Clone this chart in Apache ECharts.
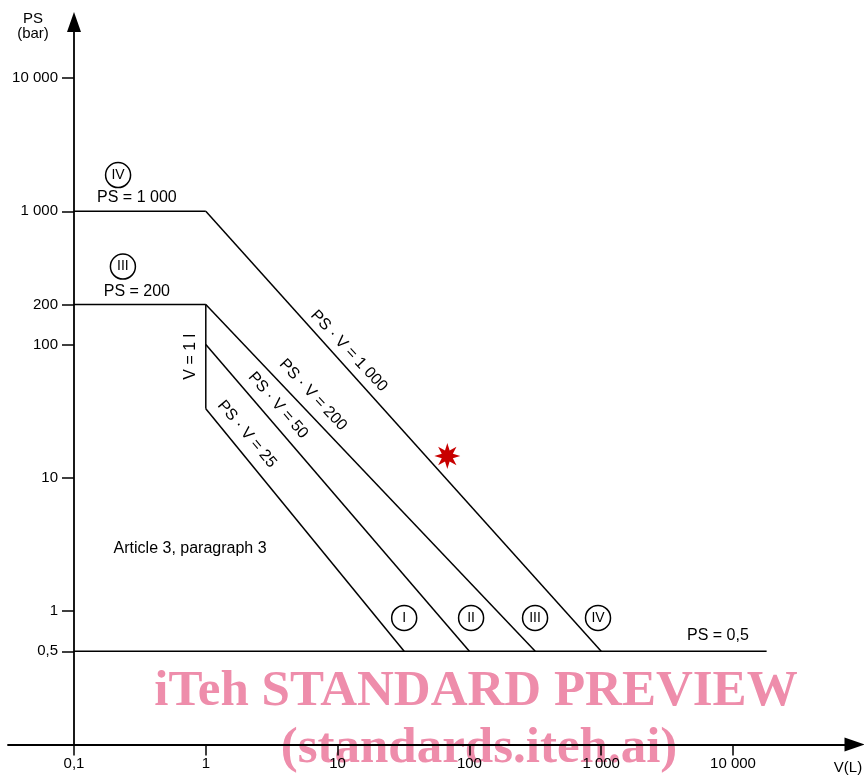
<!DOCTYPE html>
<html>
<head>
<meta charset="utf-8">
<script src="https://cdn.jsdelivr.net/npm/echarts@6/dist/echarts.min.js"></script>
<style>
  html, body { margin: 0; padding: 0; background: #fff; }
  #chart { width: 864px; height: 778px; }
</style>
</head>
<body>
<div id="chart"></div>
<script>
// ---- axis ticks ----
const xTicks = [0.1, 1, 10, 100, 1000, 10000];
const xTickLabels = ['0,1', '1', '10', '100', '1 000', '10 000'];
const yTicks = [0.5, 1, 10, 100, 200, 1000, 10000];
const yTickLabels = ['0,5', '1', '10', '100', '200', '1 000', '10 000'];

// ---- boundary lines, points as [V (L), PS (bar)] ----
const linePS1000 = [[0.1, 1000], [1, 1000]];
const linePS200 = [[0.1, 200], [1, 200]];
const lineV1 = [[1, 200], [1, 33]];
const linePSV1000 = [[1, 1000], [1000, 0.5]];
const linePSV200 = [[1, 200], [316, 0.5]];
const linePSV50 = [[1, 100], [100, 0.5]];
const linePSV25 = [[1, 33], [32, 0.5]];
const linePS05 = [[0.1, 0.5], [18000, 0.5]];

// ---- category markers (circled numerals) ----
const categoryNames = ['I', 'II', 'III', 'IV', 'IV', 'III'];
const categoryV = [32, 103, 315, 946, 0.216, 0.235];
const categoryPS = [0.89, 0.89, 0.89, 0.89, 1870, 385];

// ---- text annotations ----
const noteTexts = ['PS = 1 000', 'PS = 200', 'PS = 0,5', 'V = 1 l', 'PS · V = 1 000', 'PS · V = 200', 'PS · V = 50', 'PS · V = 25', 'Article 3, paragraph 3'];
const noteV = [0.30, 0.30, 7690, 0.77, 12.2, 6.5, 3.53, 2.05, 0.76];
const notePS = [1258, 250, 0.652, 81, 89.5, 41.9, 35.0, 21.3, 2.93];
const noteRotate = [0, 0, 0, 90, -47, -47, -49, -50, 0];

// ---- highlighted point (red star) ----
const starPoint = [[68, 14.6]];

function fmt(ticks, labels) {
  return function (v) {
    for (let i = 0; i < ticks.length; i++) {
      if (Math.abs(Math.log10(v) - Math.log10(ticks[i])) < 1e-6) return labels[i];
    }
    return '';
  };
}

function starPath(n, rOut, rIn) {
  let d = '';
  for (let i = 0; i < 2 * n; i++) {
    const r = i % 2 === 0 ? rOut : rIn;
    const a = Math.PI * i / n - Math.PI / 2;
    d += (i === 0 ? 'M' : 'L') + (r * Math.cos(a)).toFixed(2) + ' ' + (r * Math.sin(a)).toFixed(2) + ' ';
  }
  return 'path://' + d + 'Z';
}

const FONT = '"Liberation Sans", Arial, Helvetica, sans-serif';
const INK = '#000';

function lineSeries(name, data) {
  return {
    name: name, type: 'line', data: data, symbol: 'none', silent: true,
    lineStyle: { color: INK, width: 1.5 }, z: 3, animation: false
  };
}

const chart = echarts.init(document.getElementById('chart'), null, { renderer: 'canvas' });

const option = {
  backgroundColor: '#fff',
  animation: false,
  grid: { left: 8, right: 9.5, top: 22, bottom: 33.5, containLabel: false, outerBoundsMode: 'none' },
  xAxis: {
    type: 'log', logBase: 10,
    min: Math.pow(10, -1.5008), max: Math.pow(10, 4.922),
    axisLine: { show: true, symbol: ['none', 'triangle'], symbolSize: [14, 20], symbolOffset: [0, 0], lineStyle: { color: INK, width: 1.8 } },
    axisTick: { show: true, length: 11, customValues: xTicks, lineStyle: { color: INK, width: 1.5 } },
    axisLabel: { show: true, customValues: xTicks, formatter: fmt(xTicks, xTickLabels), margin: 12, fontSize: 15, color: INK, fontFamily: FONT },
    splitLine: { show: false }, minorTick: { show: false }, minorSplitLine: { show: false }
  },
  yAxis: {
    type: 'log', logBase: 10,
    min: 0.1, max: Math.pow(10, 4.42),
    offset: -66,
    axisLine: { show: true, symbol: ['none', 'triangle'], symbolSize: [14, 20], symbolOffset: [0, 0], lineStyle: { color: INK, width: 1.8 } },
    axisTick: { show: true, length: 12, customValues: yTicks, lineStyle: { color: INK, width: 1.5 } },
    axisLabel: { show: true, customValues: yTicks, formatter: fmt(yTicks, yTickLabels), margin: 16, fontSize: 15, color: INK, fontFamily: FONT },
    splitLine: { show: false }, minorTick: { show: false }, minorSplitLine: { show: false }
  },
  graphic: {
    elements: [
      { type: 'text', z: 10, silent: true, style: { x: 33, y: 19, text: 'PS', textAlign: 'center', textVerticalAlign: 'middle', fill: INK, font: '15px ' + FONT } },
      { type: 'text', z: 10, silent: true, style: { x: 33, y: 34, text: '(bar)', textAlign: 'center', textVerticalAlign: 'middle', fill: INK, font: '15px ' + FONT } },
      { type: 'text', z: 10, silent: true, style: { x: 848, y: 768, text: 'V(L)', textAlign: 'center', textVerticalAlign: 'middle', fill: INK, font: '15px ' + FONT } },
      { type: 'text', z: -10, silent: true, style: { x: 476, y: 717, text: 'iTeh STANDARD PREVIEW', textAlign: 'center', textVerticalAlign: 'bottom', fill: '#ee8dab', font: 'bold 51px "Liberation Serif", "Times New Roman", serif' } },
      { type: 'text', z: -10, silent: true, style: { x: 479, y: 774, text: '(standards.iteh.ai)', textAlign: 'center', textVerticalAlign: 'bottom', fill: '#ee8dab', font: 'bold 51px "Liberation Serif", "Times New Roman", serif' } }
    ]
  },
  series: [
    lineSeries('PS = 1 000', linePS1000),
    lineSeries('PS = 200', linePS200),
    lineSeries('V = 1 l', lineV1),
    lineSeries('PS·V = 1 000', linePSV1000),
    lineSeries('PS·V = 200', linePSV200),
    lineSeries('PS·V = 50', linePSV50),
    lineSeries('PS·V = 25', linePSV25),
    lineSeries('PS = 0,5', linePS05),
    {
      name: 'categories', type: 'scatter', silent: true, z: 5,
      symbol: 'circle', symbolSize: 25,
      itemStyle: { color: '#fff', borderColor: INK, borderWidth: 1.5, opacity: 1 },
      label: { show: true, position: 'inside', formatter: p => p.name, fontSize: 14, color: INK, fontFamily: FONT, textBorderWidth: 0 },
      data: categoryNames.map((n, i) => ({ name: n, value: [categoryV[i], categoryPS[i]] }))
    },
    {
      name: 'notes', type: 'scatter', silent: true, z: 5,
      symbolSize: 0,
      itemStyle: { color: INK, opacity: 1 },
      label: { show: true, position: 'inside', formatter: p => p.name, fontSize: 16, color: INK, fontFamily: FONT, align: 'center', verticalAlign: 'middle', textBorderWidth: 0 },
      data: noteTexts.map((t, i) => ({ name: t, value: [noteV[i], notePS[i]], label: { rotate: noteRotate[i] } }))
    },
    {
      name: 'star', type: 'scatter', silent: true, z: 6,
      symbol: starPath(8, 13, 6), symbolSize: 26,
      itemStyle: { color: '#c80000', opacity: 1 },
      data: starPoint
    }
  ]
};

chart.setOption(option);
</script>
</body>
</html>
